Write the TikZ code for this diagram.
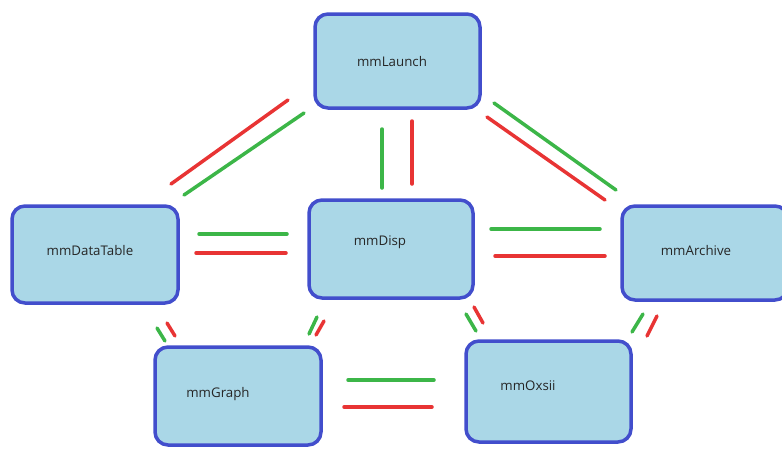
\documentclass[tikz,border=0pt]{standalone}
\usepackage{fontspec}
\setmainfont{Open Sans}
\definecolor{boxblue}{RGB}{66,78,204}
\definecolor{water}{RGB}{170,215,231}
\definecolor{lgreen}{RGB}{60,182,72}
\definecolor{lred}{RGB}{232,52,52}
\tikzset{
  box/.style={draw=boxblue, line width=3.5pt, fill=water, rounded corners=13pt, inner sep=0pt},
  lbl/.style={font=\fontsize{13.3}{15}\selectfont, text=black!85, inner sep=0pt},
  gline/.style={draw=lgreen, line width=3.5pt, line cap=round},
  rline/.style={draw=lred, line width=3.5pt, line cap=round}
}
\begin{document}
\begin{tikzpicture}[x=1pt,y=-1pt]
\useasboundingbox (0,0) rectangle (782,448);
% boxes
\node[box, minimum width=165pt, minimum height=94pt] (launch) at (397.5,61) {};
\node[box, minimum width=166pt, minimum height=97pt] (datatable) at (95,254.5) {};
\node[box, minimum width=164pt, minimum height=98pt] (disp) at (391,249) {};
\node[box, minimum width=166pt, minimum height=94pt] (archive) at (705,253) {};
\node[box, minimum width=166pt, minimum height=98pt] (graph) at (238,396) {};
\node[box, minimum width=165pt, minimum height=101pt] (oxsii) at (548.5,391.5) {};
% labels
\node[lbl] (tlaunch) at (392,62) {mmLaunch};
\node[lbl] (tdatatable) at (90,251) {mmDataTable};
\node[lbl] (tdisp) at (380,242) {mmDisp};
\node[lbl] (tarchive) at (696,251) {mmArchive};
\node[lbl] (tgraph) at (218,394) {mmGraph};
\node[lbl] (toxsii) at (528,386) {mmOxsii};
% connector end points
\coordinate (ldR1) at (288,100); \coordinate (ldR2) at (171,184);
\coordinate (ldG1) at (304,113); \coordinate (ldG2) at (184,195);
\coordinate (lpG1) at (382,129); \coordinate (lpG2) at (382,188);
\coordinate (lpR1) at (412,121); \coordinate (lpR2) at (412,184);
\coordinate (laG1) at (494,103); \coordinate (laG2) at (616,190);
\coordinate (laR1) at (487,117); \coordinate (laR2) at (605,200);
\coordinate (dpG1) at (199,234); \coordinate (dpG2) at (287,234);
\coordinate (dpR1) at (196,253); \coordinate (dpR2) at (286,253);
\coordinate (paG1) at (491,229); \coordinate (paG2) at (600,229);
\coordinate (paR1) at (495,256); \coordinate (paR2) at (605,256);
\coordinate (goG1) at (348,380); \coordinate (goG2) at (434,380);
\coordinate (goR1) at (344,407); \coordinate (goR2) at (432,407);
\coordinate (dgG1) at (157,328); \coordinate (dgG2) at (165,341);
\coordinate (dgR1) at (167,323); \coordinate (dgR2) at (175,336);
\coordinate (gpG1) at (309,334); \coordinate (gpG2) at (317,317);
\coordinate (gpR1) at (316,335); \coordinate (gpR2) at (324,321);
\coordinate (poG1) at (466,314); \coordinate (poG2) at (476,331);
\coordinate (poR1) at (474,307); \coordinate (poR2) at (483,323);
\coordinate (oaG1) at (632,332); \coordinate (oaG2) at (643,314);
\coordinate (oaR1) at (647,336); \coordinate (oaR2) at (657,316);
% connectors
\draw[rline] (ldR1) -- (ldR2);
\draw[gline] (ldG1) -- (ldG2);
\draw[gline] (lpG1) -- (lpG2);
\draw[rline] (lpR1) -- (lpR2);
\draw[gline] (laG1) -- (laG2);
\draw[rline] (laR1) -- (laR2);
\draw[gline] (dpG1) -- (dpG2);
\draw[rline] (dpR1) -- (dpR2);
\draw[gline] (paG1) -- (paG2);
\draw[rline] (paR1) -- (paR2);
\draw[gline] (goG1) -- (goG2);
\draw[rline] (goR1) -- (goR2);
\draw[gline] (dgG1) -- (dgG2);
\draw[rline] (dgR1) -- (dgR2);
\draw[gline] (gpG1) -- (gpG2);
\draw[rline] (gpR1) -- (gpR2);
\draw[gline] (poG1) -- (poG2);
\draw[rline] (poR1) -- (poR2);
\draw[gline] (oaG1) -- (oaG2);
\draw[rline] (oaR1) -- (oaR2);
\end{tikzpicture}
\end{document}
